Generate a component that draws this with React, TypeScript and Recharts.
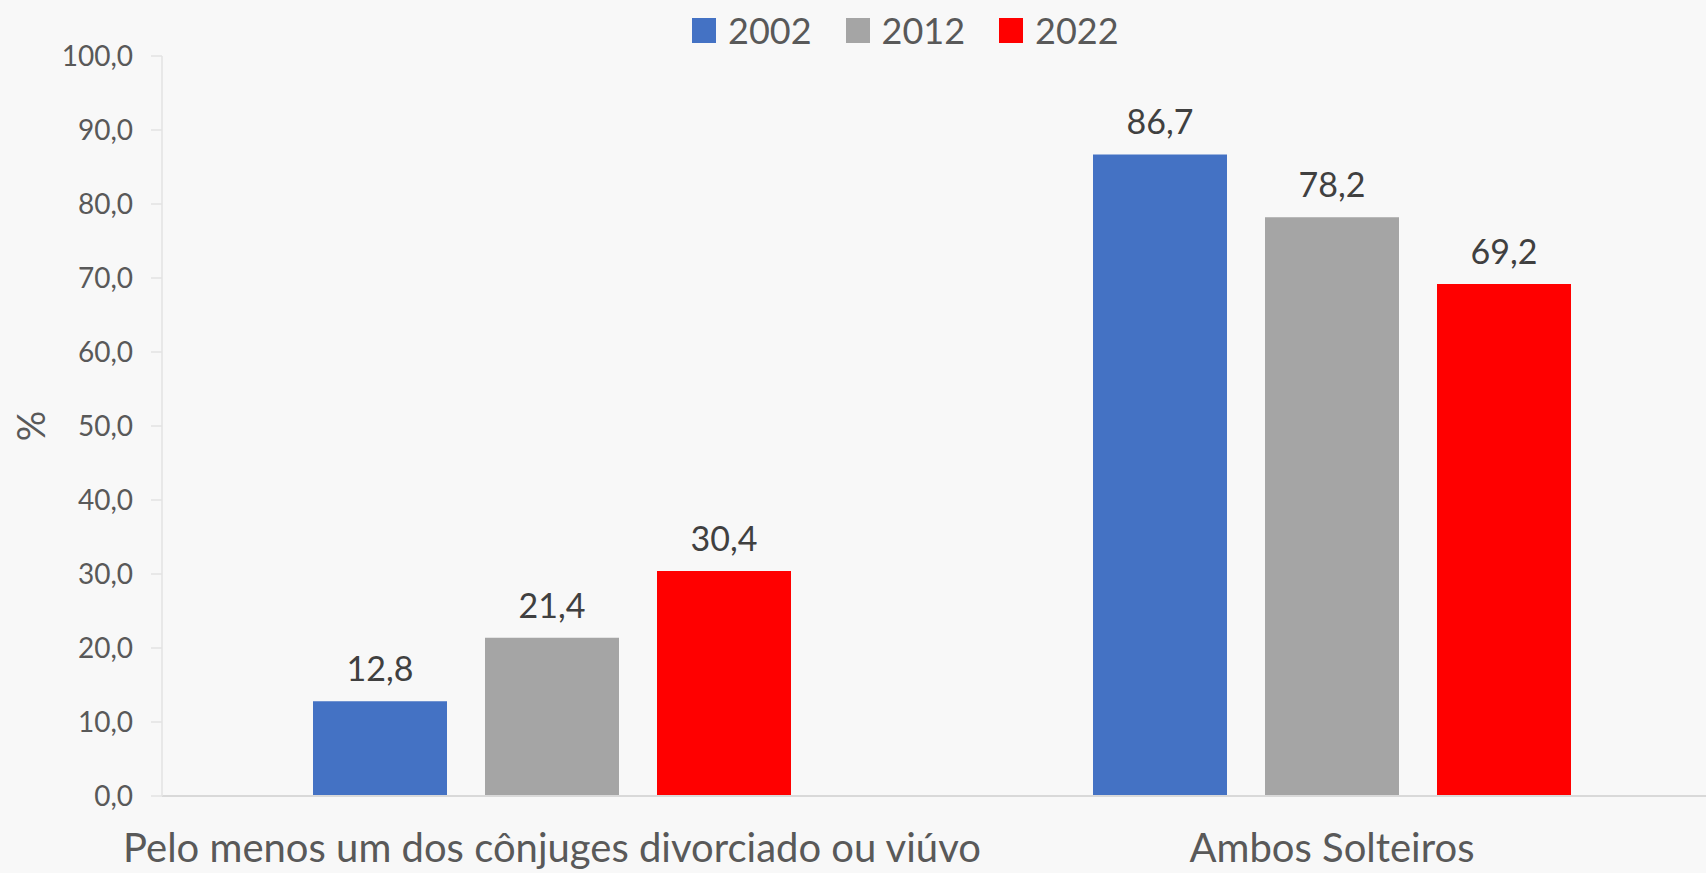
import { BarChart, Bar, XAxis, YAxis, Legend, LabelList, Label } from 'recharts'

const FONT = 'Lato, "Open Sans", sans-serif'

const categories = ['Pelo menos um dos cônjuges divorciado ou viúvo', 'Ambos Solteiros']
const values2002 = [12.8, 86.7]
const values2012 = [21.4, 78.2]
const values2022 = [30.4, 69.2]
const yTicks = [0, 10, 20, 30, 40, 50, 60, 70, 80, 90, 100]

const SERIES = [
  { key: '2002', color: '#4472C4', values: values2002 },
  { key: '2012', color: '#A5A5A5', values: values2012 },
  { key: '2022', color: '#FF0000', values: values2022 },
]

const data = categories.map((name, i) => {
  const row: Record<string, any> = { name }
  SERIES.forEach(s => { row[s.key] = s.values[i] })
  return row
})

const fmt = (v: any) => Number(v).toFixed(1).replace('.', ',')

const LegendContent = () => (
  <div style={{ display: 'flex', alignItems: 'center', height: 44, fontFamily: FONT, fontSize: 36, color: '#595959' }}>
    {SERIES.map(s => (
      <div key={s.key} style={{ display: 'flex', alignItems: 'center', marginRight: 34 }}>
        <div style={{ width: 24, height: 25, background: s.color, marginRight: 12 }} />
        <span>{s.key}</span>
      </div>
    ))}
  </div>
)

const YTitle = (props: any) => {
  const vb = props.viewBox || { y: 56, height: 740 }
  const cx = 30
  const cy = vb.y + vb.height / 2
  return (
    <text x={cx} y={cy} transform={`rotate(-90 ${cx} ${cy})`} textAnchor="middle" dominantBaseline="central"
      style={{ fontFamily: FONT, fontSize: 38, fill: '#595959' }}>%</text>
  )
}

export default function App() {
  return (
    <div style={{ position: 'fixed', left: 0, top: 0, width: 1706, height: 873, overflow: 'hidden', background: '#F8F8F8' }}>
      <BarChart width={1722} height={873} data={data} barSize={134} barGap={38}
        margin={{ top: 12, right: 0, bottom: 0, left: 0 }}>
        <Legend verticalAlign="top" content={<LegendContent />} wrapperStyle={{ left: 692, top: 8, width: 520 }} />
        <XAxis dataKey="name" interval={0} height={77} tickLine={false} tickSize={6} tickMargin={32}
          axisLine={{ stroke: '#D9D9D9', strokeWidth: 2 }}
          tick={{ fill: '#595959', fontSize: 40, fontFamily: FONT }} />
        <YAxis domain={[0, 100]} ticks={yTicks} width={162} tickSize={11} tickMargin={18}
          tickFormatter={fmt} interval={0}
          axisLine={{ stroke: '#E3E3E3', strokeWidth: 1.5 }} tickLine={{ stroke: '#E3E3E3', strokeWidth: 1.5 }}
          tick={{ fill: '#595959', fontSize: 28, fontFamily: FONT }}>
          <Label content={<YTitle />} />
        </YAxis>
        {SERIES.map(s => (
          <Bar key={s.key} dataKey={s.key} fill={s.color} isAnimationActive={false}>
            <LabelList dataKey={s.key} position="top" offset={20} formatter={fmt}
              fill="#404040" style={{ fontSize: 34, fontFamily: FONT, fill: '#404040' }} />
          </Bar>
        ))}
      </BarChart>
    </div>
  )
}
